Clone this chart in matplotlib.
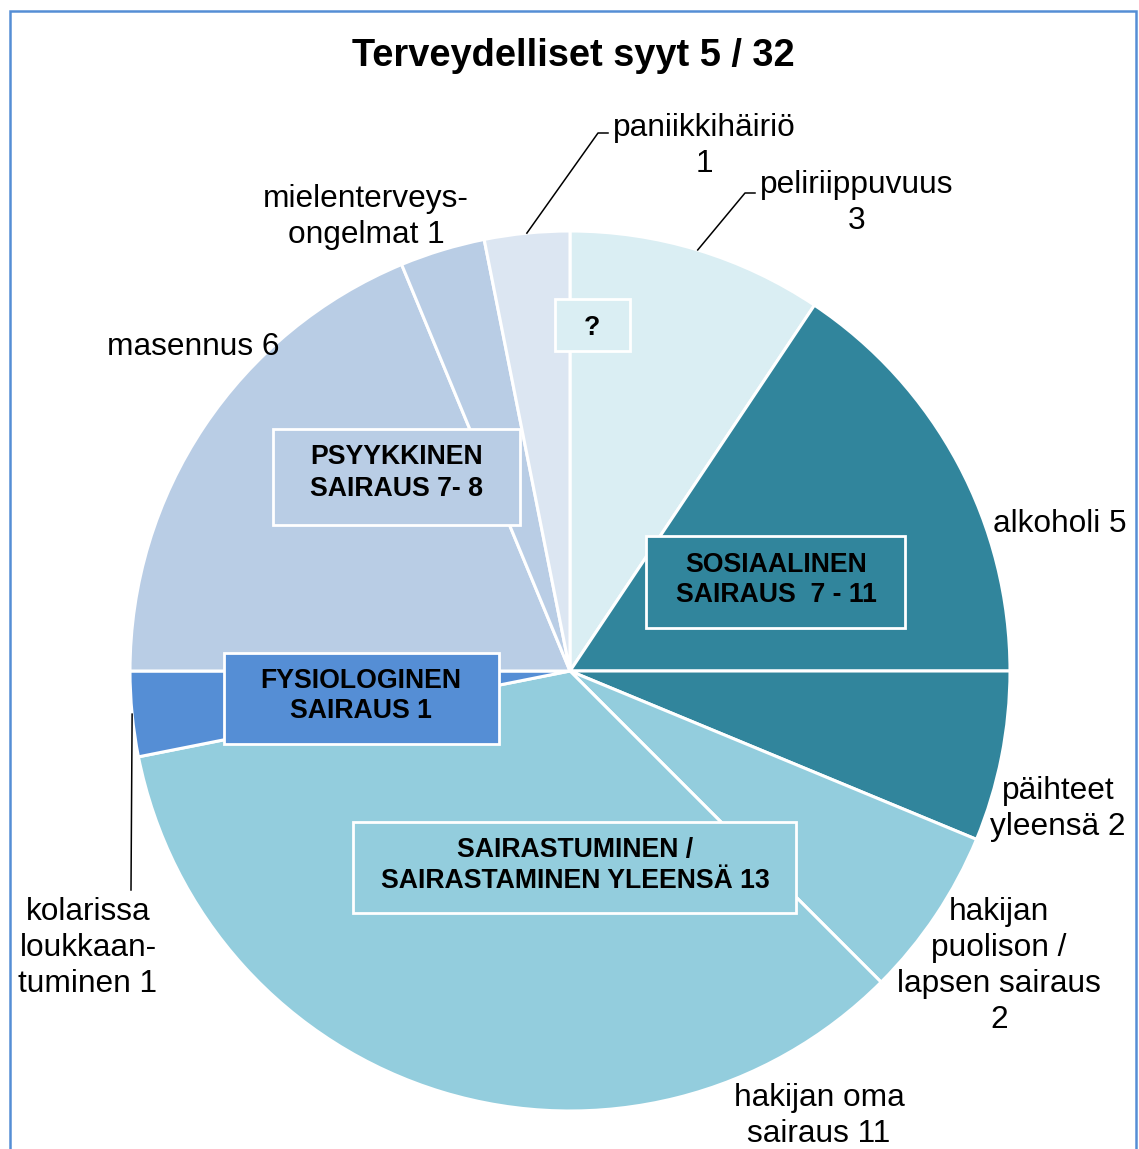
import numpy as np
import matplotlib
matplotlib.use('Agg')
import matplotlib.pyplot as plt
from matplotlib.patches import Rectangle

plt.rcParams['font.family'] = ['Liberation Sans', 'DejaVu Sans']

# Kuvan koko pikseleinä
W, H = 1139, 1149

# Data: syyt myötäpäivään ylhäältä alkaen
syyt = ['peliriippuvuus\n{}', 'alkoholi {}', 'päihteet\nyleensä {}',
        'hakijan\npuolison /\nlapsen sairaus\n{}', 'hakijan oma\nsairaus {}',
        'kolarissa\nloukkaan-\ntuminen {}', 'masennus {}',
        'mielenterveys-\nongelmat {}', 'paniikkihäiriö\n{}']
maarat = [3, 5, 2, 2, 11, 1, 6, 1, 1]
varit = ['#DAEEF3', '#31859C', '#31859C', '#93CDDD', '#93CDDD',
         '#558ED5', '#B9CDE5', '#B9CDE5', '#DCE6F2']

# Ryhmät (laatikot)
ryhmat = ['?', 'PSYYKKINEN\nSAIRAUS 7- 8', 'SOSIAALINEN\nSAIRAUS  7 - 11',
          'FYSIOLOGINEN\nSAIRAUS 1', 'SAIRASTUMINEN /\nSAIRASTAMINEN YLEENSÄ 13']
ryhma_varit = ['#DAEEF3', '#B9CDE5', '#31859C', '#558ED5', '#93CDDD']

# Asettelu (pikseleinä ylhäältä vasemmalta)
keskipiste = (570, 671)
sade = 440
laatikot = [(555, 299, 630, 351), (273, 429, 520, 525), (646, 536, 905, 628),
            (224, 653, 499, 744), (353, 822, 796, 913)]
laatikko_teksti = [(592, 328), (397, 473), (776, 580), (361, 696), (575, 866)]
nimi_paikat = [(857, 203), (1060, 524), (1058, 809), (999, 966), (819, 1116),
               (88, 948), (193, 347), (366, 217), (704, 146)]
# viivalliset selitteet: indeksi -> (taitepiste, loppupiste)
viivat = {0: ((745, 193), (755, 193)),
          8: ((598, 133), (608, 133)),
          5: ((131, 890), (131, 890))}


def Y(y):
    return H - y


fig = plt.figure(figsize=(W / 100, H / 100), dpi=100)
ax = fig.add_axes([0, 0, 1, 1])

wedges, _ = ax.pie(maarat, colors=varit, startangle=90, counterclock=False,
                   radius=sade, center=(keskipiste[0], Y(keskipiste[1])),
                   wedgeprops=dict(edgecolor='white', linewidth=2.2))
ax.set_xlim(0, W)
ax.set_ylim(0, H)
ax.set_aspect('equal')
ax.axis('off')

# Selitteet
for i, (nimi, arvo) in enumerate(zip(syyt, maarat)):
    x, y = nimi_paikat[i]
    ax.text(x, Y(y), nimi.format(arvo), ha='center', va='center',
            fontsize=22.8, linespacing=1.25)
    if i in viivat:
        w = wedges[i]
        kulma = np.deg2rad((w.theta1 + w.theta2) / 2)
        x0 = w.center[0] + w.r * np.cos(kulma)
        y0 = w.center[1] + w.r * np.sin(kulma)
        (x1, y1), (x2, y2) = viivat[i]
        ax.plot([x0, x1, x2], [y0, Y(y1), Y(y2)], color='black', lw=1.1)

# Ryhmälaatikot
for teksti, vari, (x0, y0, x1, y1), (tx, ty) in zip(ryhmat, ryhma_varit,
                                                   laatikot, laatikko_teksti):
    ax.add_patch(Rectangle((x0, Y(y1)), x1 - x0, y1 - y0, facecolor=vari,
                           edgecolor='white', lw=2, zorder=5))
    ax.text(tx, Y(ty), teksti, ha='center', va='center', fontsize=19.2,
            fontweight='bold', linespacing=1.25, zorder=6)

# Otsikko
ax.text(573, Y(56), 'Terveydelliset syyt 5 / 32', ha='center', va='center',
        fontsize=27.4, fontweight='bold')

# Kehys
ax.add_patch(Rectangle((10, -20), 1126, Y(11) + 20, fill=False,
                       edgecolor='#558ED5', lw=1.8, clip_on=False, zorder=10))

fig.savefig('out.png', dpi=100)
